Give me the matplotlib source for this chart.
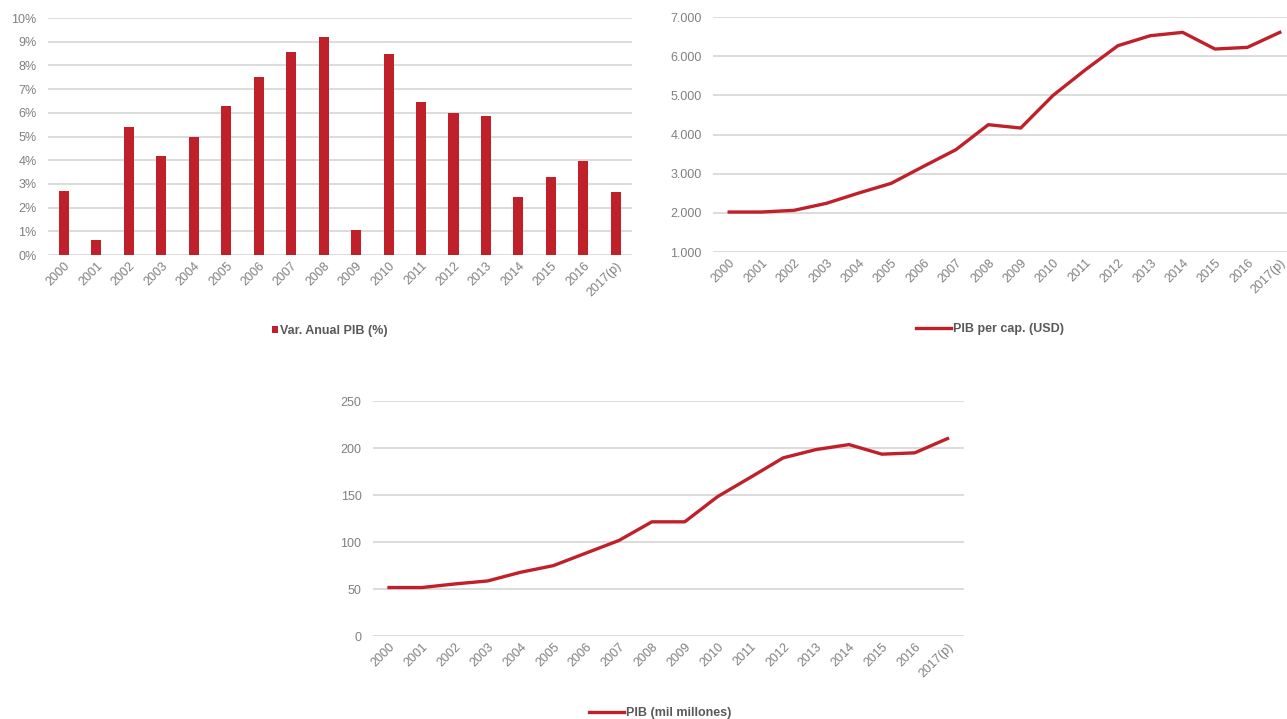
import matplotlib
matplotlib.use('Agg')
import matplotlib.pyplot as plt

plt.rcParams['font.family'] = ['Liberation Sans Narrow', 'Liberation Sans', 'DejaVu Sans']

years = ['2000', '2001', '2002', '2003', '2004', '2005', '2006', '2007', '2008',
         '2009', '2010', '2011', '2012', '2013', '2014', '2015', '2016', '2017(p)']

# Var. anual PIB (%)
var_pib = [2.71, 0.64, 5.42, 4.19, 4.96, 6.27, 7.53, 8.56, 9.18,
           1.06, 8.50, 6.47, 5.99, 5.85, 2.44, 3.28, 3.98, 2.66]

# PIB per capita (USD)
pib_pc = [2021, 2021, 2064, 2243, 2506, 2753, 3187, 3613, 4251,
          4166, 5000, 5655, 6268, 6523, 6609, 6183, 6226, 6609]

# PIB (mil millones)
pib = [51.6, 51.6, 55.4, 58.6, 67.8, 74.9, 88.3, 101.7, 121.5,
       121.5, 148.3, 168.8, 189.6, 198.4, 203.7, 193.5, 194.9, 210.1]

RED = '#C0202A'
GRID = '#D9D9D9'
TXT = '#808080'
LEG = '#595959'

fig = plt.figure(figsize=(12.87, 7.19), dpi=100)


def style(ax):
    for s in ax.spines.values():
        s.set_visible(False)
    ax.yaxis.grid(True, color=GRID, linewidth=1.3)
    ax.set_axisbelow(True)
    ax.tick_params(axis='both', length=0, colors=TXT, labelsize=9)
    ax.tick_params(axis='y', pad=8)
    ax.set_xticks(range(len(years)))
    ax.set_xticklabels(years, rotation=45, ha='right', rotation_mode='anchor')
    ax.set_xlim(-0.5, len(years) - 0.5)


def add_legend(ax, xpix, ypix, **kw):
    ax.legend(loc='center', bbox_to_anchor=(xpix / 1287, 1 - ypix / 719),
              bbox_transform=fig.transFigure, frameon=False, handletextpad=0.2,
              prop={'size': 9, 'weight': 'bold'}, labelcolor=LEG, **kw)


# Chart 1: bars
ax1 = fig.add_axes([0.0371, 0.6453, 0.454, 0.3296])
x = range(len(years))
ax1.bar(x, var_pib, width=0.31, color=RED, label='Var. Anual PIB (%)')
style(ax1)
ax1.set_ylim(0, 10)
ax1.set_yticks(range(0, 11))
ax1.set_yticklabels([f'{v}%' for v in range(0, 11)])
add_legend(ax1, 330, 331, handlelength=0.45, handleheight=0.45)

# Chart 2: PIB per capita
ax2 = fig.add_axes([0.554, 0.6495, 0.453, 0.3268])
ax2.plot(x, pib_pc, color=RED, linewidth=2.4, label='PIB per cap. (USD)')
style(ax2)
ax2.set_ylim(1000, 7000)
ax2.set_yticks(range(1000, 7001, 1000))
ax2.set_yticklabels([f'{v:,}'.replace(',', '.') for v in range(1000, 7001, 1000)])
add_legend(ax2, 990, 329, handlelength=2.8)

# Chart 3: PIB
ax3 = fig.add_axes([0.2895, 0.1154, 0.4595, 0.3268])
ax3.plot(x, pib, color=RED, linewidth=2.4, label='PIB (mil millones)')
style(ax3)
ax3.set_ylim(0, 250)
ax3.set_yticks(range(0, 251, 50))
add_legend(ax3, 660, 713, handlelength=2.8)

fig.savefig('out.png', dpi=100)
